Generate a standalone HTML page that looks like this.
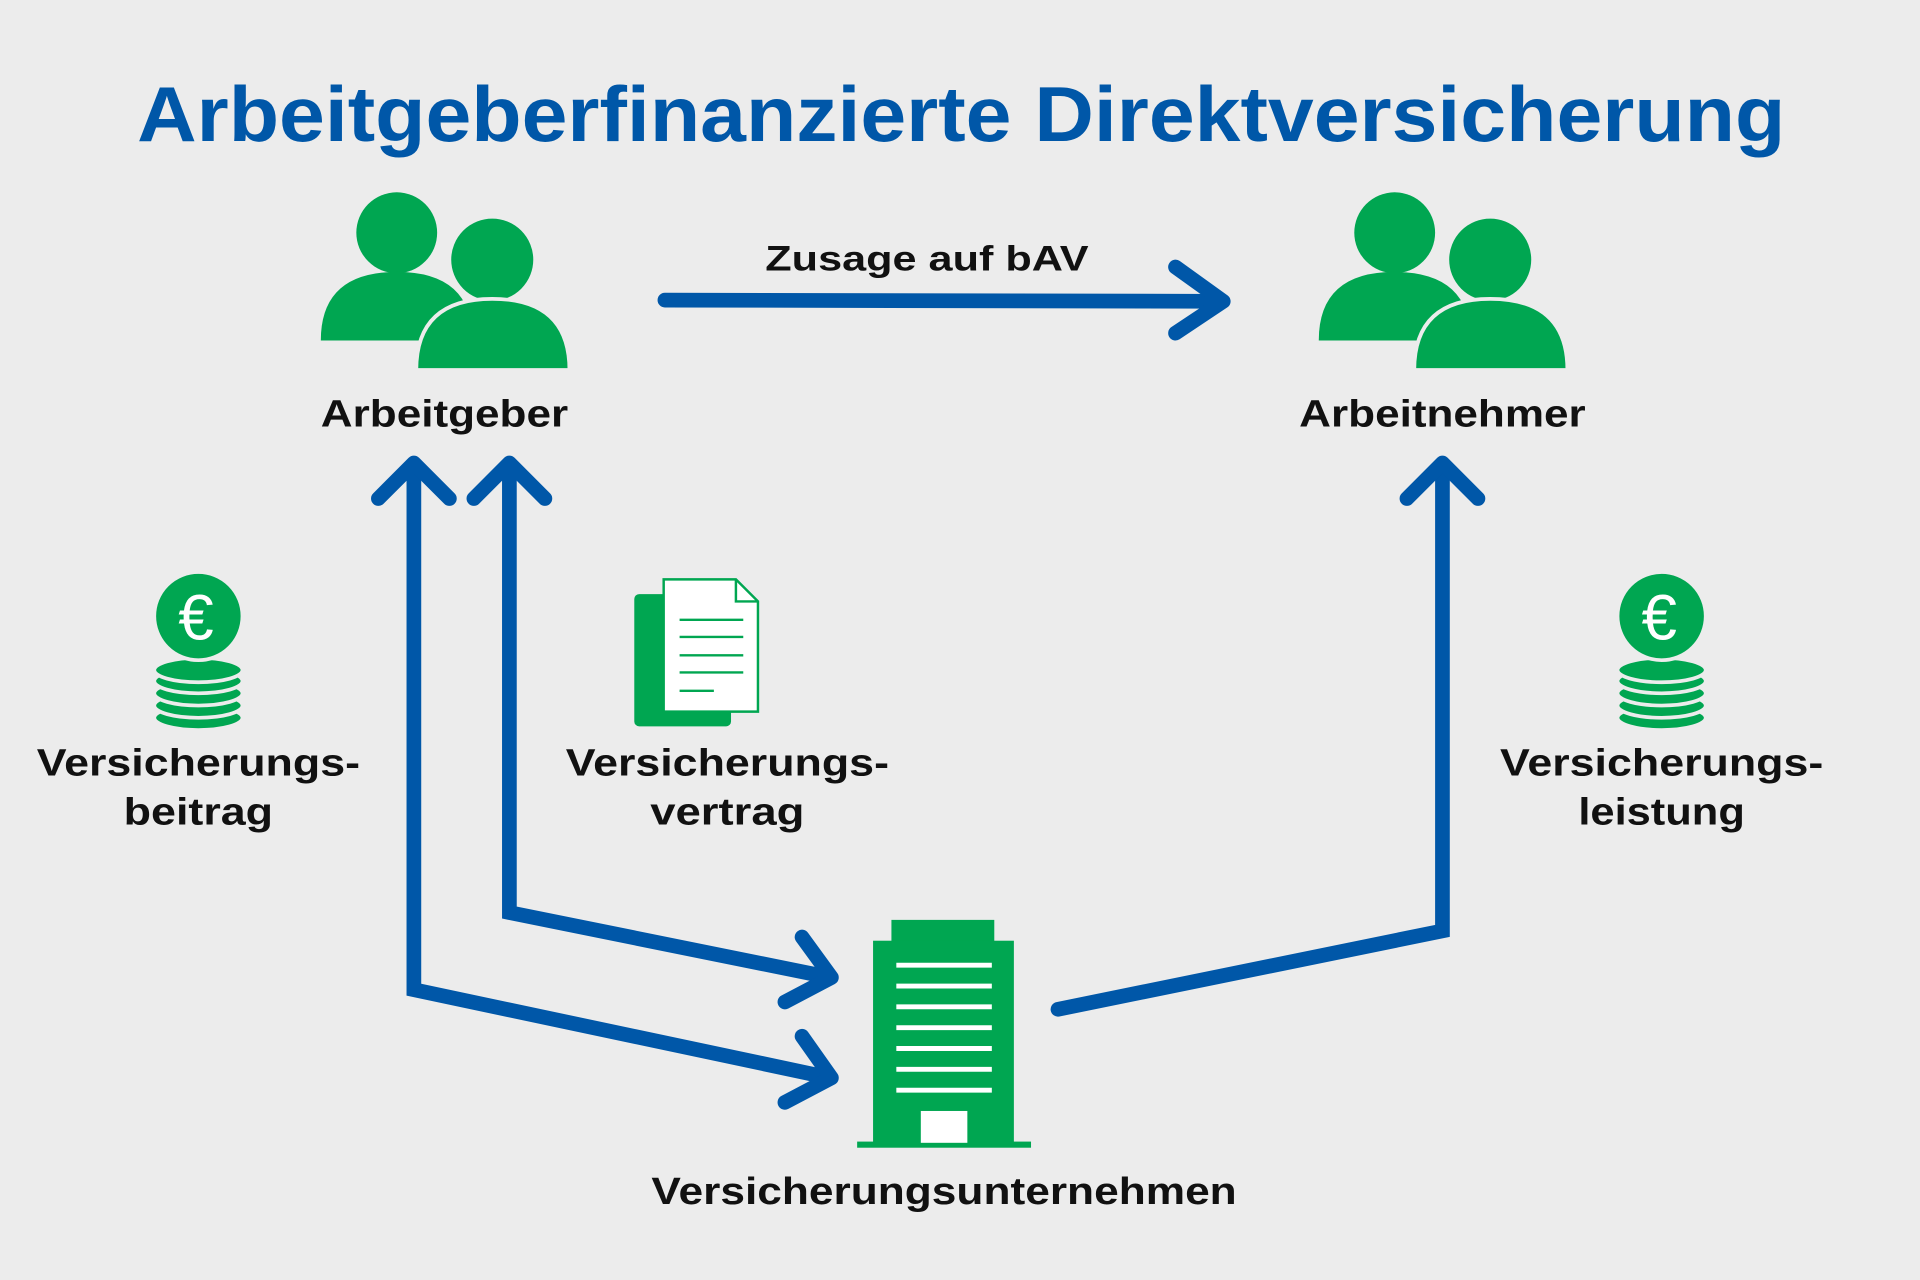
<!DOCTYPE html>
<html><head><meta charset="utf-8"><style>html,body{margin:0;padding:0;background:#ececec}svg{display:block}</style></head><body>
<svg width="1920" height="1280" viewBox="0 0 1568 1045" preserveAspectRatio="none" xmlns="http://www.w3.org/2000/svg">
<rect width="1568" height="1045" fill="#ececec"/>
<g font-family="Liberation Sans, sans-serif" font-weight="bold" text-anchor="middle">
<text x="785" y="115" font-size="64" fill="#0057a8" textLength="1346" lengthAdjust="spacingAndGlyphs">Arbeitgeberfinanzierte Direktversicherung</text>
<g fill="#111" font-size="31">
<text x="363" y="348" textLength="202" lengthAdjust="spacingAndGlyphs">Arbeitgeber</text>
<text x="1178" y="348" textLength="234" lengthAdjust="spacingAndGlyphs">Arbeitnehmer</text>
<text x="757" y="221" font-size="29" textLength="264" lengthAdjust="spacingAndGlyphs">Zusage auf bAV</text>
<text x="162" y="633" textLength="264" lengthAdjust="spacingAndGlyphs">Versicherungs-</text>
<text x="162" y="673" textLength="122" lengthAdjust="spacingAndGlyphs">beitrag</text>
<text x="594" y="633" textLength="264" lengthAdjust="spacingAndGlyphs">Versicherungs-</text>
<text x="594" y="673" textLength="126" lengthAdjust="spacingAndGlyphs">vertrag</text>
<text x="1357" y="633" textLength="264" lengthAdjust="spacingAndGlyphs">Versicherungs-</text>
<text x="1357" y="673" textLength="136" lengthAdjust="spacingAndGlyphs">leistung</text>
<text x="771" y="983" textLength="478" lengthAdjust="spacingAndGlyphs">Versicherungsunternehmen</text>
</g></g>
<defs>
<g id="people">
<circle cx="324" cy="190" r="33" fill="#00a651"/>
<path d="M262 278 Q262 222 324 222 Q386 222 386 278 Z" fill="#00a651"/>
<circle cx="402" cy="212" r="35" fill="#00a651" stroke="#ececec" stroke-width="3"/>
<path d="M340 302 Q340 244 402 244 Q465 244 465 302 Z" fill="#00a651" stroke="#ececec" stroke-width="3"/>
</g>
<g id="coin">
<g fill="#00a651" stroke="#ececec" stroke-width="3">
<ellipse cx="162" cy="586" rx="36" ry="10"/>
<ellipse cx="162" cy="576" rx="36" ry="10"/>
<ellipse cx="162" cy="566" rx="36" ry="10"/>
<ellipse cx="162" cy="556" rx="36" ry="10"/>
<ellipse cx="162" cy="547" rx="36" ry="10"/>
</g>
<circle cx="162" cy="503" r="36" fill="#00a651" stroke="#ececec" stroke-width="3"/>
<text x="160" y="522" font-family="Liberation Sans, sans-serif" font-size="52" fill="#fff" text-anchor="middle">€</text>
</g>
</defs>
<use href="#people"/>
<use href="#people" transform="translate(815,0)"/>
<use href="#coin"/>
<use href="#coin" transform="translate(1195,0)"/>
<!-- document -->
<rect x="518" y="485" width="79" height="108" rx="4" fill="#00a651"/>
<path d="M542 473 H601 L619 491 V581 H542 Z" fill="#fff" stroke="#00a651" stroke-width="2"/>
<path d="M601 473 V491 H619" fill="none" stroke="#00a651" stroke-width="2"/>
<g stroke="#00a651" stroke-width="2"><line x1="555" y1="506" x2="607" y2="506"/><line x1="555" y1="520" x2="607" y2="520"/><line x1="555" y1="535" x2="607" y2="535"/><line x1="555" y1="549" x2="607" y2="549"/><line x1="555" y1="564" x2="583" y2="564"/></g>
<!-- building -->
<rect x="728" y="751" width="84" height="18" fill="#00a651"/>
<rect x="713" y="768" width="115" height="167" fill="#00a651"/>
<rect x="700" y="932" width="142" height="5" fill="#00a651"/>
<rect x="752" y="907" width="38" height="26" fill="#fff"/>
<g stroke="#fff" stroke-width="4"><line x1="732" y1="788" x2="810" y2="788"/><line x1="732" y1="805" x2="810" y2="805"/><line x1="732" y1="822" x2="810" y2="822"/><line x1="732" y1="839" x2="810" y2="839"/><line x1="732" y1="856" x2="810" y2="856"/><line x1="732" y1="873" x2="810" y2="873"/><line x1="732" y1="890" x2="810" y2="890"/></g>
<!-- arrows -->
<g fill="none" stroke="#0057a8" stroke-width="12" stroke-linecap="round" stroke-linejoin="miter">
<line x1="543" y1="245" x2="998" y2="246"/>
<polyline points="960,218 999,246 960,272" stroke-linejoin="round"/>
<polyline points="338,382 338,808 678,880"/>
<polyline points="309,407 338,378 367,407" stroke-linejoin="round"/>
<polyline points="655,846 679,880 641,900" stroke-linejoin="round"/>
<polyline points="416,382 416,745 678,798"/>
<polyline points="387,407 416,378 445,407" stroke-linejoin="round"/>
<polyline points="655,765 679,798 641,818" stroke-linejoin="round"/>
<polyline points="864,824 1178,760 1178,382"/>
<polyline points="1149,407 1178,378 1207,407" stroke-linejoin="round"/>
</g>
</svg>
</body></html>
